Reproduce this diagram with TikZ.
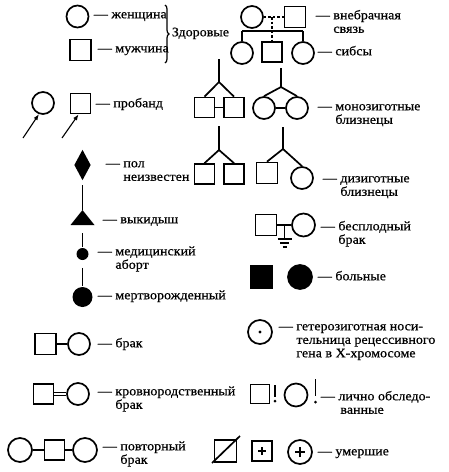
\documentclass[tikz,border=0pt]{standalone}
\usepackage{fontspec}
\setmainfont[FakeStretch=1.08,FakeBold=0.6]{Liberation Serif}
\usetikzlibrary{shapes.geometric,arrows.meta,decorations.pathreplacing}
\newcommand\lblfont{\fontsize{13}{13.5}\selectfont}
\newcommand\tb[1]{\begin{tabular}[t]{@{}l@{}}#1\end{tabular}}
\begin{document}
\begin{tikzpicture}[x=1pt,y=-1pt,line width=1.7pt,
  fem/.style={circle,draw,inner sep=0pt,minimum size=22pt},
  mal/.style={rectangle,draw,inner sep=0pt,minimum size=21pt},
  lbl/.style={anchor=mid west,inner sep=0pt,font=\lblfont,align=left},
  dot/.style={circle,fill,inner sep=0pt,minimum size=#1},
  thin/.style={line width=1.2pt},
  ptr/.style={-{Latex[length=6pt,width=4.5pt]},line width=1.1pt},
  extra/.style={line width=1.4pt,dash pattern=on 2.5pt off 2pt}]
\useasboundingbox (0,0) rectangle (448,472);
% healthy
\node[fem] (w) at (77.5,16.5) {};
\node[mal] (m) at (80.5,50) {};
\node[lbl] (tw) at (93,16) {— женщина};
\node[lbl] (tm) at (97,50) {— мужчина};
\draw[decorate,decoration={brace,amplitude=4pt},thin] (165,5) -- (165,63);
\node[lbl] (th) at (171,34) {Здоровые};
% proband
\node[fem] (pc) at (43,103) {};
\node[mal,minimum size=20pt] (ps) at (80.5,103.5) {};
\coordinate (pa1) at (23,138);
\coordinate (pa2) at (62,138);
\draw[ptr] (pa1) -- (pc.-110);
\draw[ptr] (pa2) -- (ps.-100);
\node[lbl] (tp) at (95,105) {— пробанд};
% unknown sex, miscarriage, abortion, stillborn
\node[diamond,fill,inner sep=0pt,minimum width=17pt,minimum height=31pt] (dia) at (82.5,165) {};
\coordinate (triT) at (82.5,210);
\coordinate (triB) at (82.5,225);
\fill (triT) -- (94.5,225) -- (70.5,225) -- cycle;
\node[dot=12pt] (sd) at (82.5,254) {};
\node[dot=20pt] (bd) at (82.5,297) {};
\draw[shorten <=4pt] (dia.south) -- (triT);
\draw[shorten <=8pt] (triB) -- (sd.north);
\draw[shorten <=7pt] (sd.south) -- (bd.north);
\node[lbl] (tu) at (105,165) {— \tb{пол\\неизвестен}};
\node[lbl] (tv) at (102,221) {— выкидыш};
\node[lbl] (ta) at (97,253) {— \tb{медицинский\\аборт}};
\node[lbl] (tsb) at (97,297) {— мертворожденный};
% marriage
\node[mal] (bs) at (45.5,344) {};
\node[fem] (bc) at (79,344) {};
\draw (bs) -- (bc);
\node[lbl] (tb1) at (97,345) {— брак};
\node[mal,minimum size=20pt] (ks) at (43.5,394) {};
\node[fem] (kc) at (78,394) {};
\draw[double,double distance=2.5pt,line width=1pt] (ks) -- (kc);
\node[lbl] (tk) at (97,393) {— \tb{кровнородственный\\брак}};
\node[fem,minimum size=24pt] (r1) at (20,450) {};
\node[mal,minimum size=20pt] (r2) at (54.5,450) {};
\node[fem,minimum size=24pt] (r3) at (85,450) {};
\draw (r1) -- (r2);
\draw (r2) -- (r3);
\node[lbl] (tr) at (102,448) {— \tb{повторный\\брак}};
% extramarital + sibs
\node[fem] (ec) at (252,17) {};
\node[mal] (es) at (295,17) {};
\draw[extra] (ec) -- (es);
\coordinate (ej) at (272,17);
\coordinate (sl) at (242,31);
\coordinate (sr) at (303,31);
\node[fem] (s1) at (242,53) {};
\node[mal,minimum size=20pt] (s2) at (272,52) {};
\node[fem] (s3) at (303,53) {};
\draw (sl) -- (sr);
\draw (sl) -- (s1);
\draw (sr) -- (s3);
\draw[extra] (ej) -- (s2);
\node[lbl] (te) at (315,17) {— \tb{внебрачная\\связь}};
\node[lbl] (ts) at (317,53) {— сибсы};
% monozygotic
\node[mal,minimum size=20pt] (m1) at (204.5,107.5) {};
\node[mal,minimum size=20pt] (m2) at (234,107.5) {};
\coordinate (mt1) at (219,59);
\coordinate (mj1) at (219,82);
\draw (mt1) -- (mj1);
\draw (mj1) -- (m1.north);
\draw (mj1) -- (m2.north);
\draw (m1) -- (m2);
\node[fem] (mc1) at (264,108) {};
\node[fem] (mc2) at (297,108) {};
\coordinate (mt2) at (281,68);
\coordinate (mj2) at (281,87);
\draw (mt2) -- (mj2);
\draw (mj2) -- (mc1.north);
\draw (mj2) -- (mc2.north);
\draw (mc1) -- (mc2);
\node[lbl] (tmz) at (317,108) {— \tb{монозиготные\\близнецы}};
% dizygotic
\node[mal,minimum size=20pt] (d1) at (204.5,174) {};
\node[mal,minimum size=20pt] (d2) at (234,174) {};
\coordinate (dt1) at (219,126);
\coordinate (dj1) at (219,150);
\draw (dt1) -- (dj1);
\draw (dj1) -- (d1.north);
\draw (dj1) -- (d2.north);
\node[mal] (d3) at (267,173) {};
\node[fem] (d4) at (302,178) {};
\coordinate (dt2) at (283,127);
\coordinate (dj2) at (283,149);
\draw (dt2) -- (dj2);
\draw (dj2) -- (d3.north);
\draw (dj2) -- (d4.north);
\node[lbl] (tdz) at (322,180) {— \tb{дизиготные\\близнецы}};
% infertile
\node[mal] (is) at (266,225) {};
\node[fem,minimum size=23pt] (ic) at (303.5,225) {};
\draw (is) -- (ic);
\coordinate (im) at (284.5,225);
\coordinate (ig) at (284.5,239);
\draw[thin] (im) -- (ig);
\draw[thin] ([xshift=-7pt]ig) -- ([xshift=7pt]ig);
\draw[thin] ([xshift=-4.5pt,yshift=-4pt]ig) -- ([xshift=4.5pt,yshift=-4pt]ig);
\draw[thin] ([xshift=-2pt,yshift=-8pt]ig) -- ([xshift=2pt,yshift=-8pt]ig);
\node[lbl] (ti) at (320,228) {— \tb{бесплодный\\брак}};
% affected
\node[mal,fill,minimum size=22pt] (as) at (261.5,277) {};
\node[fem,fill,minimum size=24pt] (ac) at (300,277) {};
\node[lbl] (ta2) at (317,278) {— больные};
% heterozygous
\node[fem,minimum size=24pt] (hc) at (260,332) {};
\node[dot=3.4pt] (hd) at (260,332) {};
\node[lbl] (th2) at (278,328) {— \tb{гетерозиготная носи-\\тельница рецессивного\\гена в Х-хромосоме}};
% examined
\node[mal,minimum size=19pt] (xs) at (260,394) {};
\node[fem,minimum size=23pt] (xc) at (296,395) {};
\coordinate (x1a) at (275,385);
\coordinate (x1b) at (275,397);
\draw (x1a) -- (x1b);
\node[dot=3pt] (x1d) at (275,401) {};
\coordinate (x2a) at (315.5,379);
\coordinate (x2b) at (315.5,396);
\draw (x2a) -- (x2b);
\node[dot=3pt] (x2d) at (315.5,402) {};
\node[lbl] (tx) at (320,398) {— \tb{лично обследо-\\\hspace{2pt}ванные}};
% deceased
\node[mal,minimum size=22pt] (ds) at (225.5,451) {};
\coordinate (dsa) at (212,463);
\coordinate (dsb) at (240,436);
\draw (dsa) -- (dsb);
\node[mal,minimum size=20pt] (dp) at (262,451) {};
\draw[thin] ([xshift=-4pt]dp.center) -- ([xshift=4pt]dp.center);
\draw[thin] ([yshift=-4pt]dp.center) -- ([yshift=4pt]dp.center);
\node[fem,minimum size=24pt] (dc) at (300,452) {};
\draw[thin] ([xshift=-5pt]dc.center) -- ([xshift=5pt]dc.center);
\draw[thin] ([yshift=-5pt]dc.center) -- ([yshift=5pt]dc.center);
\node[lbl] (td) at (317,453) {— умершие};
\end{tikzpicture}
\end{document}
